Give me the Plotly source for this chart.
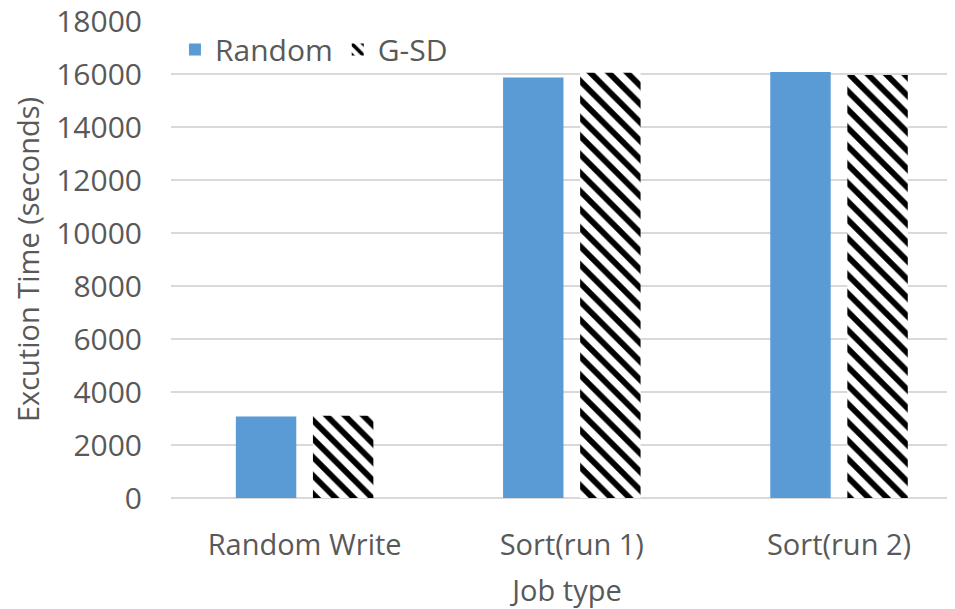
import plotly.graph_objects as go

categories = ["Random Write", "Sort(run 1)", "Sort(run 2)"]
random_vals = [3080, 15870, 16080]
gsd_vals = [3100, 16050, 15960]
y_ticks = [0, 2000, 4000, 6000, 8000, 10000, 12000, 14000, 16000, 18000]

FONT = "Open Sans"
GRAY = "#595959"

fig = go.Figure()
fig.add_trace(go.Bar(
    x=categories, y=random_vals, name="Random",
    marker=dict(color="#5b9bd5", line=dict(width=0)),
))
fig.add_trace(go.Bar(
    x=categories, y=gsd_vals, name="G-SD",
    marker=dict(color="white", line=dict(width=0),
                pattern=dict(shape="\\", fgcolor="black", bgcolor="white",
                             size=13, solidity=0.45, fillmode="replace")),
))

fig.update_layout(
    width=955, height=609,
    margin=dict(l=163, r=0, t=13, b=119, autoexpand=False),
    paper_bgcolor="white", plot_bgcolor="white",
    barmode="group", bargap=0.423, bargroupgap=0.216,
    font=dict(family=FONT, size=29, color=GRAY),
    showlegend=True,
    legend=dict(orientation="h", x=0.005, y=0.94, xanchor="left", yanchor="middle",
                font=dict(size=30, color=GRAY), bgcolor="rgba(0,0,0,0)",
                itemwidth=30),
    xaxis=dict(range=[-0.5, 2.464], showgrid=False, showline=False, ticks="",
               automargin=False,
               tickfont=dict(size=29, color=GRAY), ticklabelstandoff=27,
               title=dict(text="Job type", font=dict(size=29, color=GRAY), standoff=18)),
    yaxis=dict(range=[0, 18000], tickvals=y_ticks, tickformat="d", showgrid=True,
               gridcolor="#d9d9d9", gridwidth=1.5, zeroline=True, zerolinecolor="#d9d9d9",
               zerolinewidth=1.5, showline=False, ticks="", automargin=False,
               ticklabeloverflow="allow",
               tickfont=dict(size=30, color=GRAY), ticklabelstandoff=28,
               title=dict(text="Excution Time (seconds)", font=dict(size=29, color=GRAY),
                          standoff=10)),
)

fig.write_html("out.html")
